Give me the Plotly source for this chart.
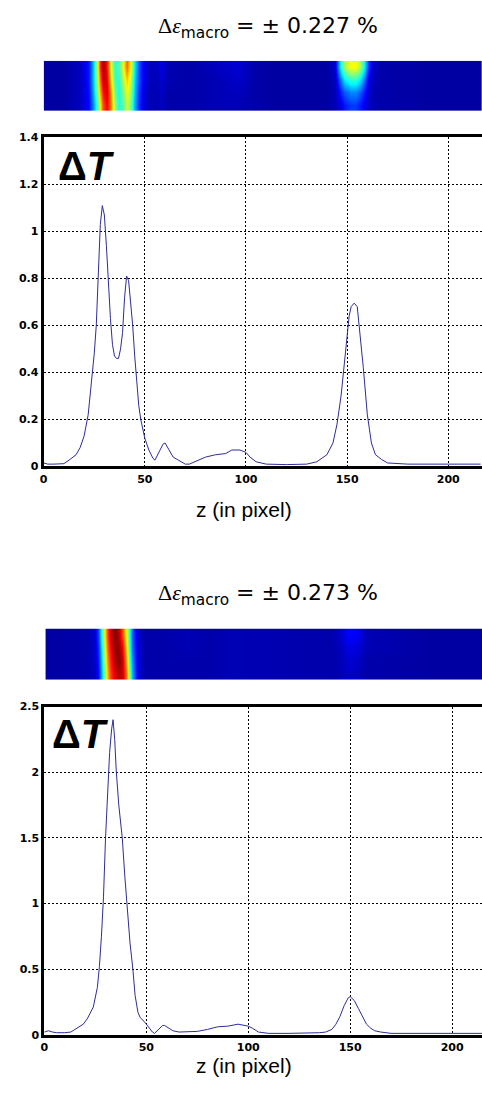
import plotly.graph_objects as go

# ---------------- data ----------------
# top profile (delta eps = 0.227 %)
z_top = [0, 2, 5, 10, 13, 16, 18, 20, 22, 24, 25, 26, 27, 28, 29, 30, 31, 32, 33, 34,
         35, 36, 37, 38, 39, 40, 41, 42, 43, 44, 45, 46, 47, 48, 50, 52, 54, 55, 57, 59,
         60, 62, 64, 66, 68, 70, 72, 75, 80, 85, 90, 93, 97, 100, 102, 105, 110, 120, 130, 135,
         140, 143, 145, 147, 149, 151, 152, 153.5, 155, 156, 158, 160, 162, 164, 167, 170, 180, 200, 216]
dT_top = [0.015, 0.01, 0.01, 0.012, 0.03, 0.05, 0.08, 0.13, 0.22, 0.38, 0.48, 0.6, 0.8, 1.03, 1.11, 1.07, 0.94, 0.77, 0.63, 0.52,
          0.47, 0.46, 0.46, 0.5, 0.57, 0.72, 0.81, 0.79, 0.7, 0.6, 0.47, 0.36, 0.26, 0.2, 0.12, 0.07, 0.035, 0.027, 0.06, 0.095,
          0.10, 0.07, 0.04, 0.03, 0.02, 0.01, 0.01, 0.02, 0.04, 0.05, 0.055, 0.07, 0.07, 0.06, 0.04, 0.02, 0.01, 0.008, 0.01, 0.02,
          0.05, 0.1, 0.18, 0.3, 0.48, 0.64, 0.68, 0.695, 0.68, 0.6, 0.42, 0.22, 0.1, 0.05, 0.03, 0.015, 0.01, 0.01, 0.01]

# bottom profile (delta eps = 0.273 %)
z_bot = [0, 2, 4, 6, 10, 13, 15, 17, 19.1, 21, 24, 26, 27, 28, 29, 30, 31, 32, 33, 33.7,
         34.5, 35.3, 36.5, 38.2, 39.5, 40.5, 42, 43.4, 44.5, 45.9, 47, 49, 51, 53, 54, 56, 58, 59, 61, 63,
         66, 70, 75, 80, 85, 90, 95, 100, 102, 105, 110, 120, 130, 135, 138, 141, 143, 145, 147, 149,
         150, 152, 154, 156, 158, 160, 162, 165, 170, 200, 214.6]
dT_bot = [0.02, 0.03, 0.02, 0.015, 0.015, 0.02, 0.04, 0.06, 0.08, 0.12, 0.21, 0.36, 0.52, 0.75, 1.05, 1.5, 1.85, 2.15, 2.33, 2.4,
          2.25, 2.0, 1.75, 1.5, 1.2, 1.0, 0.7, 0.5, 0.3, 0.17, 0.13, 0.1, 0.06, 0.02, 0.01, 0.04, 0.07, 0.07, 0.05, 0.03,
          0.02, 0.02, 0.025, 0.04, 0.06, 0.065, 0.08, 0.065, 0.05, 0.02, 0.01, 0.01, 0.01, 0.015, 0.02, 0.04, 0.08, 0.14, 0.22, 0.28,
          0.29, 0.26, 0.2, 0.14, 0.08, 0.05, 0.03, 0.02, 0.01, 0.01, 0.01]

# heat-map strips (rows top -> bottom, normalised intensity)
heat_x_top = [0, 10, 18, 22, 24, 26, 27.5, 29, 31, 33, 35, 37, 39, 41, 43, 45, 47, 49, 52, 56,
              58, 61, 66, 75, 85, 96, 104, 112, 140, 144, 147, 149, 151.5, 154, 156, 158, 160, 162, 166, 190, 216]
heat_top_r0 = [0.03, 0.03, 0.06, 0.15, 0.3, 0.55, 0.82, 0.97, 0.86, 0.6, 0.42, 0.45, 0.6, 0.78, 0.6, 0.35, 0.2, 0.12, 0.06, 0.06,
               0.1, 0.05, 0.04, 0.04, 0.06, 0.08, 0.04, 0.03, 0.03, 0.08, 0.4, 0.55, 0.62, 0.62, 0.55, 0.4, 0.2, 0.08, 0.04, 0.03, 0.03]
heat_top_r1 = [0.03, 0.03, 0.06, 0.15, 0.3, 0.52, 0.76, 0.93, 0.9, 0.65, 0.43, 0.42, 0.55, 0.68, 0.55, 0.32, 0.2, 0.12, 0.06, 0.05,
               0.08, 0.05, 0.04, 0.04, 0.05, 0.07, 0.04, 0.03, 0.03, 0.06, 0.25, 0.36, 0.42, 0.42, 0.36, 0.25, 0.12, 0.06, 0.04, 0.03, 0.03]
heat_top_r2 = [0.03, 0.03, 0.06, 0.14, 0.28, 0.48, 0.7, 0.86, 0.92, 0.72, 0.47, 0.4, 0.5, 0.62, 0.52, 0.3, 0.18, 0.1, 0.05, 0.05,
               0.07, 0.04, 0.04, 0.04, 0.05, 0.06, 0.04, 0.03, 0.03, 0.05, 0.16, 0.22, 0.26, 0.26, 0.22, 0.16, 0.09, 0.05, 0.04, 0.03, 0.03]
heat_top_r3 = [0.03, 0.03, 0.06, 0.13, 0.25, 0.42, 0.62, 0.8, 0.88, 0.75, 0.52, 0.4, 0.46, 0.58, 0.48, 0.28, 0.17, 0.1, 0.05, 0.05,
               0.06, 0.04, 0.04, 0.04, 0.05, 0.05, 0.04, 0.03, 0.03, 0.05, 0.1, 0.15, 0.18, 0.18, 0.15, 0.11, 0.07, 0.05, 0.04, 0.03, 0.03]

heat_x_bot = [0, 20, 24, 26, 27.5, 29, 30.5, 32, 34, 36, 38, 40, 41.5, 43, 45, 48, 60, 70, 80, 90,
              140, 145, 149, 153, 158, 190, 214.6]
heat_bot_r0 = [0.03, 0.04, 0.08, 0.2, 0.4, 0.62, 0.82, 0.92, 1.0, 0.95, 0.8, 0.6, 0.4, 0.2, 0.08, 0.04, 0.04, 0.05, 0.04, 0.05,
               0.04, 0.07, 0.13, 0.12, 0.05, 0.03, 0.03]
heat_bot_r1 = [0.03, 0.04, 0.07, 0.18, 0.36, 0.58, 0.78, 0.88, 0.98, 0.98, 0.88, 0.65, 0.42, 0.22, 0.09, 0.04, 0.04, 0.05, 0.04, 0.05,
               0.04, 0.06, 0.1, 0.09, 0.05, 0.03, 0.03]
heat_bot_r2 = [0.03, 0.04, 0.07, 0.16, 0.33, 0.54, 0.74, 0.85, 0.95, 1.0, 0.92, 0.7, 0.45, 0.25, 0.1, 0.04, 0.04, 0.04, 0.04, 0.05,
               0.04, 0.05, 0.08, 0.07, 0.04, 0.03, 0.03]
heat_bot_r3 = [0.03, 0.04, 0.06, 0.14, 0.3, 0.5, 0.7, 0.82, 0.9, 0.95, 0.92, 0.75, 0.5, 0.28, 0.1, 0.04, 0.04, 0.04, 0.04, 0.05,
               0.04, 0.05, 0.07, 0.06, 0.04, 0.03, 0.03]
heat_rows = [3, 2, 1, 0]

x_ticks = [0, 50, 100, 150, 200]
y_ticks_top = [0, 0.2, 0.4, 0.6, 0.8, 1, 1.2, 1.4]
y_tick_text_top = ["0", "0.2", "0.4", "0.6", "0.8", "1", "1.2", "1.4"]
y_ticks_bot = [0, 0.5, 1, 1.5, 2, 2.5]
y_tick_text_bot = ["0", "0.5", "1", "1.5", "2", "2.5"]
titles = ["0.227", "0.273"]

# ---------------- figure ----------------
W, H = 482, 1098
jet = [[0, "rgb(0,0,132)"], [0.125, "rgb(0,0,255)"], [0.375, "rgb(0,255,255)"],
       [0.625, "rgb(255,255,0)"], [0.875, "rgb(255,0,0)"], [1, "rgb(128,0,0)"]]
line_col = "#2d2d98"


def px(p):  # screen column -> paper fraction
    return p / W


def py(p):  # screen row -> paper fraction
    return 1 - p / H


fig = go.Figure()
fig.add_trace(go.Scatter(x=z_top, y=dT_top, mode="lines", line=dict(color=line_col, width=1),
                         xaxis="x", yaxis="y", showlegend=False, hoverinfo="skip"))
fig.add_trace(go.Heatmap(x=heat_x_top, y=heat_rows,
                         z=[heat_top_r0, heat_top_r1, heat_top_r2, heat_top_r3],
                         colorscale=jet, zmin=0, zmax=1, zsmooth="best", showscale=False,
                         xaxis="x2", yaxis="y2", hoverinfo="skip"))
fig.add_trace(go.Scatter(x=z_bot, y=dT_bot, mode="lines", line=dict(color=line_col, width=1),
                         xaxis="x3", yaxis="y3", showlegend=False, hoverinfo="skip"))
fig.add_trace(go.Heatmap(x=heat_x_bot, y=heat_rows,
                         z=[heat_bot_r0, heat_bot_r1, heat_bot_r2, heat_bot_r3],
                         colorscale=jet, zmin=0, zmax=1, zsmooth="best", showscale=False,
                         xaxis="x4", yaxis="y4", hoverinfo="skip"))

tickfont = dict(family="DejaVu Sans", size=11, color="black", weight="bold")
grid = dict(showgrid=True, gridcolor="black", gridwidth=1, griddash="2px,2px")


def plot_x(dom, rng, anchor):
    return dict(domain=dom, range=rng, anchor=anchor, tickvals=x_ticks, ticks="",
                showline=True, linecolor="black", linewidth=3, mirror=True,
                tickfont=tickfont, zeroline=False, fixedrange=True, **grid)


def plot_y(dom, rng, anchor, tv, tt):
    return dict(domain=dom, range=rng, anchor=anchor, tickvals=tv, ticktext=tt, ticks="",
                showline=True, linecolor="black", linewidth=3, mirror=False,
                tickfont=tickfont, zeroline=False, fixedrange=True, **grid)


def heat_ax(dom, rng, anchor):
    return dict(domain=dom, range=rng, anchor=anchor, visible=False, fixedrange=True)


xr_top = [0, (W - 40) / 2.04]
xr_bot = [0, (W - 40.7) / 2.056]

fig.update_layout(
    width=W, height=H,
    margin=dict(l=0, r=0, t=0, b=0),
    paper_bgcolor="white", plot_bgcolor="white",
    xaxis=plot_x([px(40), 1], xr_top, "y"),
    yaxis=plot_y([py(466), py(133)], [0, 1.4], "x", y_ticks_top, y_tick_text_top),
    xaxis2=heat_ax([px(40), 1], xr_top, "y2"),
    yaxis2=heat_ax([py(106), py(55.5)], [-0.5, 3.5], "x2"),
    xaxis3=plot_x([px(40.7), 1], xr_bot, "y3"),
    yaxis3=plot_y([py(1041), py(709)], [0, 2.5], "x3", y_ticks_bot, y_tick_text_bot),
    xaxis4=heat_ax([px(41.7), 1], xr_bot, "y4"),
    yaxis4=heat_ax([py(682), py(630)], [-0.5, 3.5], "x4"),
)

annots = []
for val, yc in zip(titles, [22, 596]):
    annots.append(dict(
        text=("<span style='font-family:Liberation Serif'>\u0394<i>\u03b5</i></span>"
              "<sub>macro</sub> = \u00b1 " + val + " %"),
        x=px(266), y=py(yc), xref="paper", yref="paper", xanchor="center", yanchor="middle",
        showarrow=False, font=dict(family="DejaVu Sans", size=22, color="black")))
for yc in [510, 1072]:
    annots.append(dict(text="z (in pixel)", x=px(242), y=py(yc), xref="paper", yref="paper",
                       xanchor="center", yanchor="middle", showarrow=False,
                       font=dict(family="Liberation Sans", size=21, color="black")))
for xl, yc in [(52, 162), (46, 737)]:
    annots.append(dict(text="<b>\u0394<i>T</i></b>", x=px(xl), y=py(yc), xref="paper", yref="paper",
                       xanchor="left", yanchor="middle", showarrow=False,
                       font=dict(family="Liberation Sans", size=40, color="black")))
fig.update_layout(annotations=annots)

# remove the default page margin so the figure fills the 482x1098 window exactly
fig.write_html(
    "out.html",
    config={"displayModeBar": False},
    post_script="document.body.style.margin='0';"
                "document.body.style.overflow='hidden';"
                "document.documentElement.style.overflow='hidden';",
)
